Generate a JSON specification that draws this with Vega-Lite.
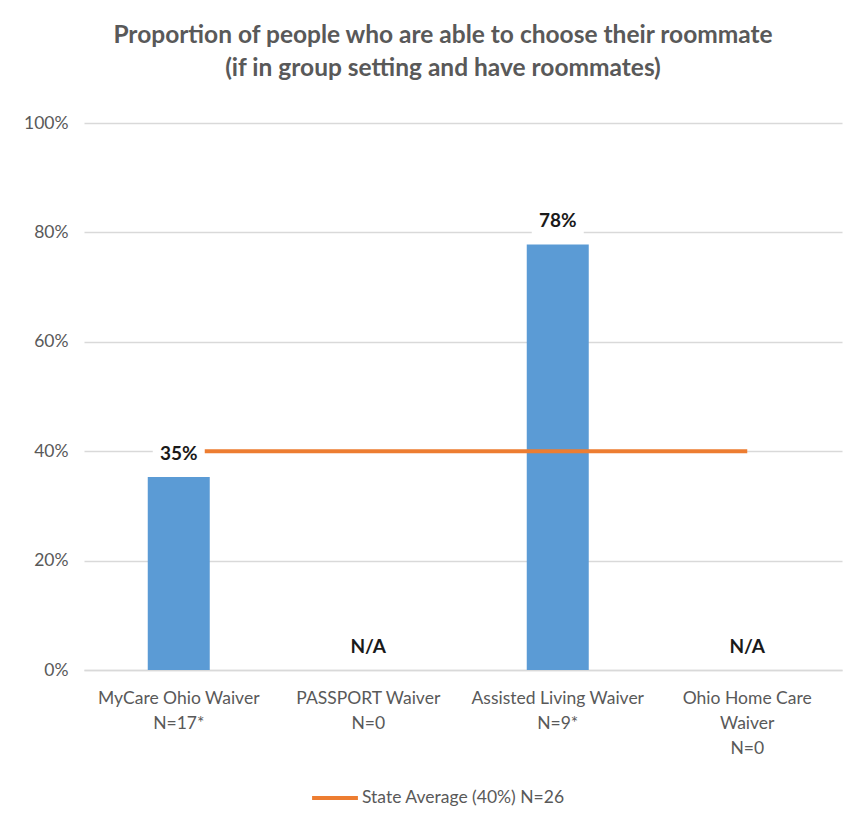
{
  "$schema": "https://vega.github.io/schema/vega-lite/v6.json",
  "width": 758,
  "height": 547,
  "autosize": {"type": "none"},
  "padding": {"left": 84, "top": 123, "right": 12, "bottom": 157},
  "background": "white",
  "config": {"font": "Lato", "view": {"stroke": null}},
  "title": {
    "text": ["Proportion of people who are able to choose their roommate", "(if in group setting and have roommates)"],
    "font": "Lato",
    "fontSize": 24.5,
    "fontWeight": "bold",
    "color": "#595959",
    "lineHeight": 33,
    "offset": 33,
    "dx": -20,
    "anchor": "middle"
  },
  "data": {
    "values": [
      {"cat": "MyCare Ohio Waiver|N=17*", "value": 0.353, "label": "35%", "avg": 0.4},
      {"cat": "PASSPORT Waiver|N=0", "value": 0, "label": "N/A", "avg": 0.4},
      {"cat": "Assisted Living Waiver|N=9*", "value": 0.778, "label": "78%", "avg": 0.4},
      {"cat": "Ohio Home Care|Waiver|N=0", "value": 0, "label": "N/A", "avg": 0.4}
    ]
  },
  "encoding": {
    "x": {
      "field": "cat",
      "type": "nominal",
      "sort": null,
      "scale": {"paddingInner": 0, "paddingOuter": 0},
      "axis": {
        "title": null,
        "labelExpr": "split(datum.label, '|')",
        "labelAngle": 0,
        "labelFontSize": 17.5,
        "labelColor": "#595959",
        "labelLineHeight": 25,
        "labelPadding": 19,
        "labelLimit": 0,
        "ticks": false,
        "domainColor": "#D9D9D9",
        "domainWidth": 1.5
      }
    }
  },
  "layer": [
    {
      "mark": {"type": "bar", "color": "#5B9BD5", "size": 62},
      "encoding": {
        "y": {
          "field": "value",
          "type": "quantitative",
          "scale": {"domain": [0, 1], "nice": false},
          "axis": {
            "title": null,
            "format": "%",
            "values": [0, 0.2, 0.4, 0.6, 0.8, 1],
            "domain": false,
            "ticks": false,
            "labelPadding": 16,
            "labelFontSize": 17.5,
            "labelColor": "#595959",
            "gridColor": "#D9D9D9",
            "gridWidth": 1.5
          }
        }
      }
    },
    {
      "mark": {"type": "line", "strokeWidth": 4},
      "encoding": {
        "y": {"field": "avg", "type": "quantitative"},
        "color": {
          "datum": "State Average (40%) N=26",
          "type": "nominal",
          "scale": {"range": ["#ED7D31"]},
          "legend": {
            "title": null,
            "orient": "none",
            "legendX": 226,
            "legendY": 650,
            "symbolType": "stroke",
            "symbolStrokeWidth": 4,
            "symbolSize": 2100,
            "labelFontSize": 17.5,
            "labelColor": "#595959",
            "labelOffset": 2,
            "labelLimit": 0
          }
        }
      }
    },
    {
      "mark": {
        "type": "point",
        "shape": "M-1,-0.55H1V0.55H-1Z",
        "size": 2704,
        "filled": true,
        "fill": "white",
        "opacity": 1,
        "strokeWidth": 0,
        "yOffset": -23
      },
      "encoding": {
        "y": {"field": "value", "type": "quantitative"}
      }
    },
    {
      "mark": {"type": "text", "fontSize": 19, "fontWeight": "bold", "color": "#1a1a1a", "baseline": "middle", "dy": -23},
      "encoding": {
        "y": {"field": "value", "type": "quantitative"},
        "text": {"field": "label"}
      }
    }
  ]
}
